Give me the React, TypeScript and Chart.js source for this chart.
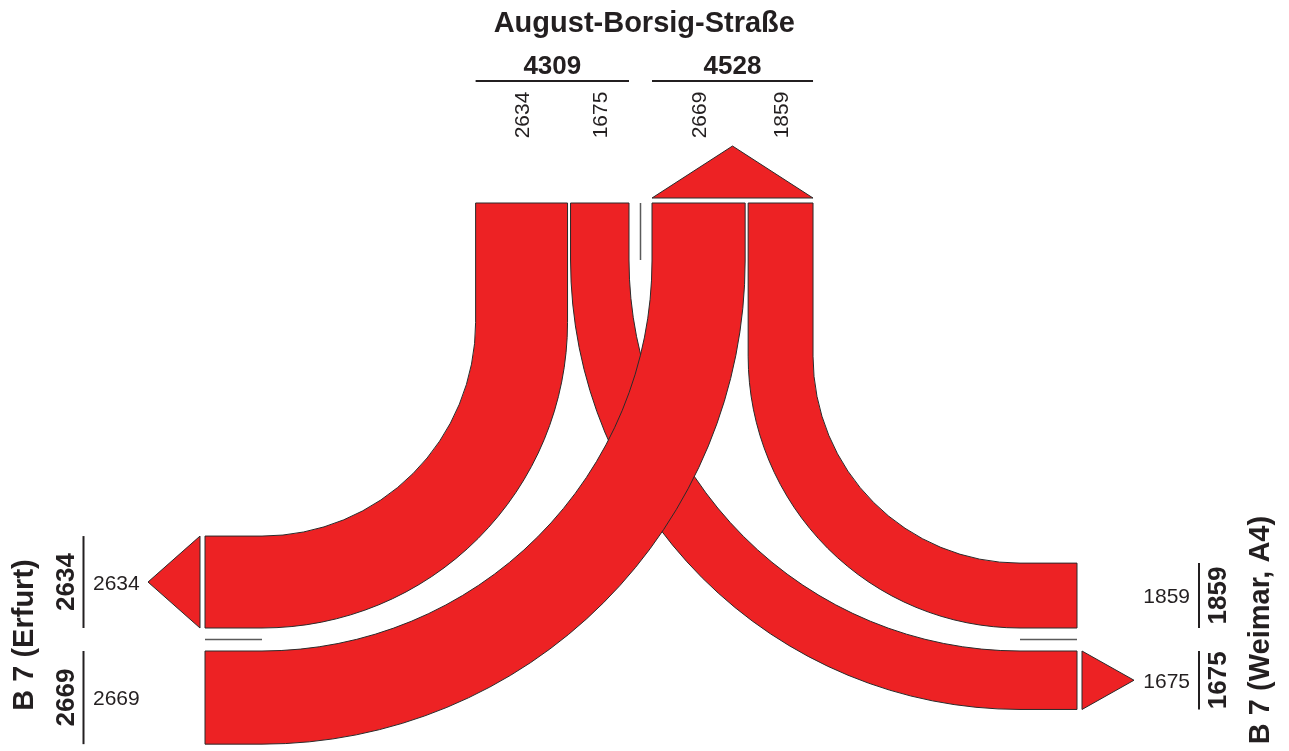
import React, { useEffect, useRef } from 'react';
import { Chart, registerables } from 'chart.js';

Chart.register(...registerables);

// ---------------- data ----------------
// arms: 0 = top, 1 = left, 2 = right
const ARM_NAMES = ['August-Borsig-Straße', 'B 7 (Erfurt)', 'B 7 (Weimar, A4)'];
const FLOW_FROM = [0, 0, 1, 2];
const FLOW_TO = [1, 2, 0, 0];
const FLOW_VALUES = [2634, 1675, 2669, 1859];

// order of the lanes in each arm, from the arm's centre line outwards
const TOP_WEST_ORDER = [1, 0];
const TOP_EAST_ORDER = [2, 3];
const LEFT_UP_ORDER = [0];
const LEFT_DOWN_ORDER = [2];
const RIGHT_UP_ORDER = [3];
const RIGHT_DOWN_ORDER = [1];

// ---------------- layout & style ----------------
const CANVAS_W = 1289;
const CANVAS_H = 751;
const PX_PER_VEHICLE = 0.0349;
const GEO = {
  topY: 203,
  topCx: 640.5,
  sideCy: 639.5,
  leftX: 205,
  rightX: 1077,
  halfGap: 11.5,
  laneGap: 3,
  straight: 57,
  arrowGap: 5,
  arrowLen: 52,
};
const TXT = {
  titleBase: 32,
  totalBase: 74,
  totalRule: 81,
  topFlowCy: 115,
  leftRuleX: 83.5,
  leftSmallX: 93,
  leftBoldBase: 74,
  leftTitleBase: 33,
  leftTitleCy: 635,
  rightRuleX: 1199,
  rightSmallX: 1190,
  rightBoldBase: 1226,
  rightTitleBase: 1269,
  rightTitleCy: 630,
};
const RED = '#ED2224';
const INK = '#231F20';
const EDGE = '#2a2a2a';
const DIVIDER = '#5a5a5a';
const FONT = '"Liberation Sans", Arial, Helvetica, sans-serif';
const F_TITLE = `bold 29px ${FONT}`;
const F_TOTAL = `bold 26px ${FONT}`;
const F_SMALL = `21px ${FONT}`;

const junctionPlugin = {
  id: 'junction',
  afterDraw(chart: any) {
    const ctx: CanvasRenderingContext2D = chart.ctx;
    const sx = chart.scales.x;
    const sy = chart.scales.y;
    const sv = chart.scales.v;
    const X = (v: number) => sx.getPixelForValue(v);
    const Y = (v: number) => sy.getPixelForValue(v);
    const widthOf = (n: number) => Math.abs(sv.getPixelForValue(n) - sv.getPixelForValue(0));
    const values: number[] = chart.data.datasets[0].data.map((p: any) => p.y);
    const w = values.map(widthOf);

    const ty = Y(GEO.topY);
    const tcx = X(GEO.topCx);
    const scy = Y(GEO.sideCy);
    const lx = X(GEO.leftX);
    const rx = X(GEO.rightX);
    const hg = X(GEO.topCx + GEO.halfGap) - tcx;
    const lg = X(GEO.laneGap) - X(0);
    const straight = X(GEO.straight) - X(0);

    const topSlot: { a: number; b: number }[] = [];
    const sideSlot: { a: number; b: number }[] = [];
    let cur = tcx - hg;
    TOP_WEST_ORDER.forEach((i) => { topSlot[i] = { a: cur - w[i], b: cur }; cur -= w[i] + lg; });
    cur = tcx + hg;
    TOP_EAST_ORDER.forEach((i) => { topSlot[i] = { a: cur, b: cur + w[i] }; cur += w[i] + lg; });
    cur = scy - hg;
    LEFT_UP_ORDER.forEach((i) => { sideSlot[i] = { a: cur - w[i], b: cur }; cur -= w[i] + lg; });
    cur = scy + hg;
    LEFT_DOWN_ORDER.forEach((i) => { sideSlot[i] = { a: cur, b: cur + w[i] }; cur += w[i] + lg; });
    cur = scy - hg;
    RIGHT_UP_ORDER.forEach((i) => { sideSlot[i] = { a: cur - w[i], b: cur }; cur -= w[i] + lg; });
    cur = scy + hg;
    RIGHT_DOWN_ORDER.forEach((i) => { sideSlot[i] = { a: cur, b: cur + w[i] }; cur += w[i] + lg; });

    const dir = values.map((_, i) => (FLOW_FROM[i] === 1 || FLOW_TO[i] === 1 ? -1 : 1));

    ctx.save();
    ctx.lineJoin = 'miter';

    // ---- bands ----
    values.forEach((_, i) => {
      const t = topSlot[i];
      const s = sideSlot[i];
      const d = dir[i];
      const xi = d < 0 ? t.a : t.b;
      const xo = d < 0 ? t.b : t.a;
      const yi = s.a;
      const yo = s.b;
      const endX = d < 0 ? lx : rx;
      const r = Math.min(yi - ty, Math.abs(xi - endX)) - straight;
      const R = r + Math.abs(xo - xi);
      const cx = xi + d * r;
      const cy = yi - r;
      ctx.beginPath();
      ctx.moveTo(xi, ty);
      ctx.lineTo(xi, cy);
      if (d < 0) ctx.arc(cx, cy, r, 0, Math.PI / 2, false);
      else ctx.arc(cx, cy, r, Math.PI, Math.PI / 2, true);
      ctx.lineTo(endX, yi);
      ctx.lineTo(endX, yo);
      ctx.lineTo(cx, yo);
      if (d < 0) ctx.arc(cx, cy, R, Math.PI / 2, 0, true);
      else ctx.arc(cx, cy, R, Math.PI / 2, Math.PI, false);
      ctx.lineTo(xo, ty);
      ctx.closePath();
      ctx.fillStyle = RED;
      ctx.fill();
      ctx.lineWidth = 1;
      ctx.strokeStyle = EDGE;
      ctx.stroke();
    });

    // ---- arrows (on the exits) ----
    const tri = (p: number[][]) => {
      ctx.beginPath();
      ctx.moveTo(p[0][0], p[0][1]);
      ctx.lineTo(p[1][0], p[1][1]);
      ctx.lineTo(p[2][0], p[2][1]);
      ctx.closePath();
      ctx.fillStyle = RED;
      ctx.fill();
      ctx.lineWidth = 1;
      ctx.strokeStyle = EDGE;
      ctx.stroke();
    };
    const ag = X(GEO.arrowGap) - X(0);
    const al = X(GEO.arrowLen) - X(0);
    const exits = (arm: number) => values.map((_, i) => i).filter((i) => FLOW_TO[i] === arm);
    const topEx = exits(0);
    if (topEx.length) {
      const a = Math.min(...topEx.map((i) => topSlot[i].a));
      const b = Math.max(...topEx.map((i) => topSlot[i].b));
      tri([[a, ty - ag], [b, ty - ag], [(a + b) / 2, ty - ag - al]]);
    }
    const leftEx = exits(1);
    if (leftEx.length) {
      const a = Math.min(...leftEx.map((i) => sideSlot[i].a));
      const b = Math.max(...leftEx.map((i) => sideSlot[i].b));
      tri([[lx - ag, a], [lx - ag, b], [lx - ag - al, (a + b) / 2]]);
    }
    const rightEx = exits(2);
    if (rightEx.length) {
      const a = Math.min(...rightEx.map((i) => sideSlot[i].a));
      const b = Math.max(...rightEx.map((i) => sideSlot[i].b));
      tri([[rx + ag, a], [rx + ag, b], [rx + ag + al, (a + b) / 2]]);
    }

    // ---- dividers between the two directions of each arm ----
    ctx.strokeStyle = DIVIDER;
    ctx.lineWidth = 1.5;
    ctx.beginPath();
    ctx.moveTo(tcx, ty);
    ctx.lineTo(tcx, ty + straight);
    ctx.moveTo(lx, scy);
    ctx.lineTo(lx + straight, scy);
    ctx.moveTo(rx - straight, scy);
    ctx.lineTo(rx, scy);
    ctx.stroke();

    // ---- text ----
    ctx.fillStyle = INK;
    const rot = (text: string, baseX: number, cy: number, font: string) => {
      ctx.save();
      ctx.translate(baseX, cy);
      ctx.rotate(-Math.PI / 2);
      ctx.font = font;
      ctx.textAlign = 'center';
      ctx.textBaseline = 'alphabetic';
      ctx.fillText(text, 0, 0);
      ctx.restore();
    };
    const hText = (text: string, x: number, y: number, font: string, align: CanvasTextAlign) => {
      ctx.font = font;
      ctx.textAlign = align;
      ctx.textBaseline = 'alphabetic';
      ctx.fillText(text, x, y);
    };
    const rule = (x1: number, y1: number, x2: number, y2: number) => {
      ctx.strokeStyle = INK;
      ctx.lineWidth = 2;
      ctx.beginPath();
      ctx.moveTo(x1, y1);
      ctx.lineTo(x2, y2);
      ctx.stroke();
    };

    // top arm
    const topAll = [...TOP_WEST_ORDER, ...TOP_EAST_ORDER];
    const topA = Math.min(...topAll.map((i) => topSlot[i].a));
    const topB = Math.max(...topAll.map((i) => topSlot[i].b));
    hText(ARM_NAMES[0], (topA + topB) / 2, Y(TXT.titleBase), F_TITLE, 'center');
    [TOP_WEST_ORDER, TOP_EAST_ORDER].forEach((grp) => {
      const a = Math.min(...grp.map((i) => topSlot[i].a));
      const b = Math.max(...grp.map((i) => topSlot[i].b));
      const total = grp.reduce((s, i) => s + values[i], 0);
      hText(String(total), (a + b) / 2, Y(TXT.totalBase), F_TOTAL, 'center');
      rule(a, Y(TXT.totalRule), b, Y(TXT.totalRule));
      grp.forEach((i) => {
        const c = (topSlot[i].a + topSlot[i].b) / 2;
        rot(String(values[i]), c + 7.5, Y(TXT.topFlowCy), F_SMALL);
      });
    });

    // left arm
    [...LEFT_UP_ORDER, ...LEFT_DOWN_ORDER].forEach((i) => {
      const s = sideSlot[i];
      const c = (s.a + s.b) / 2;
      rule(X(TXT.leftRuleX), s.a, X(TXT.leftRuleX), s.b);
      hText(String(values[i]), X(TXT.leftSmallX), c + 7.5, F_SMALL, 'left');
      rot(String(values[i]), X(TXT.leftBoldBase), c, F_TOTAL);
    });
    rot(ARM_NAMES[1], X(TXT.leftTitleBase), Y(TXT.leftTitleCy), F_TITLE);

    // right arm
    [...RIGHT_UP_ORDER, ...RIGHT_DOWN_ORDER].forEach((i) => {
      const s = sideSlot[i];
      const c = (s.a + s.b) / 2;
      rule(X(TXT.rightRuleX), s.a, X(TXT.rightRuleX), s.b);
      hText(String(values[i]), X(TXT.rightSmallX), c + 7.5, F_SMALL, 'right');
      rot(String(values[i]), X(TXT.rightBoldBase), c, F_TOTAL);
    });
    rot(ARM_NAMES[2], X(TXT.rightTitleBase), Y(TXT.rightTitleCy), F_TITLE);

    ctx.restore();
  },
};

export default function App() {
  const ref = useRef<HTMLCanvasElement>(null);
  useEffect(() => {
    if (!ref.current) return;
    const chart = new Chart(ref.current, {
      type: 'scatter',
      data: {
        datasets: [
          {
            label: 'Kfz/24h',
            data: FLOW_VALUES.map((v, i) => ({ x: i, y: v })),
            pointRadius: 0,
            showLine: false,
          },
        ],
      },
      options: {
        responsive: false,
        animation: false,
        devicePixelRatio: 1,
        events: [],
        layout: { padding: 0 },
        plugins: {
          legend: { display: false },
          tooltip: { enabled: false },
          title: { display: false },
        },
        scales: {
          x: { type: 'linear', min: 0, max: CANVAS_W, display: false },
          y: { type: 'linear', min: 0, max: CANVAS_H, reverse: true, display: false },
          v: { type: 'linear', axis: 'x', position: 'bottom', min: 0, max: CANVAS_W / PX_PER_VEHICLE, display: false },
        },
      } as any,
      plugins: [junctionPlugin],
    });
    return () => chart.destroy();
  }, []);
  return (
    <div style={{ position: 'absolute', left: 0, top: 0, width: CANVAS_W, height: CANVAS_H, background: '#fff' }}>
      <canvas ref={ref} width={CANVAS_W} height={CANVAS_H} style={{ display: 'block' }} />
    </div>
  );
}
